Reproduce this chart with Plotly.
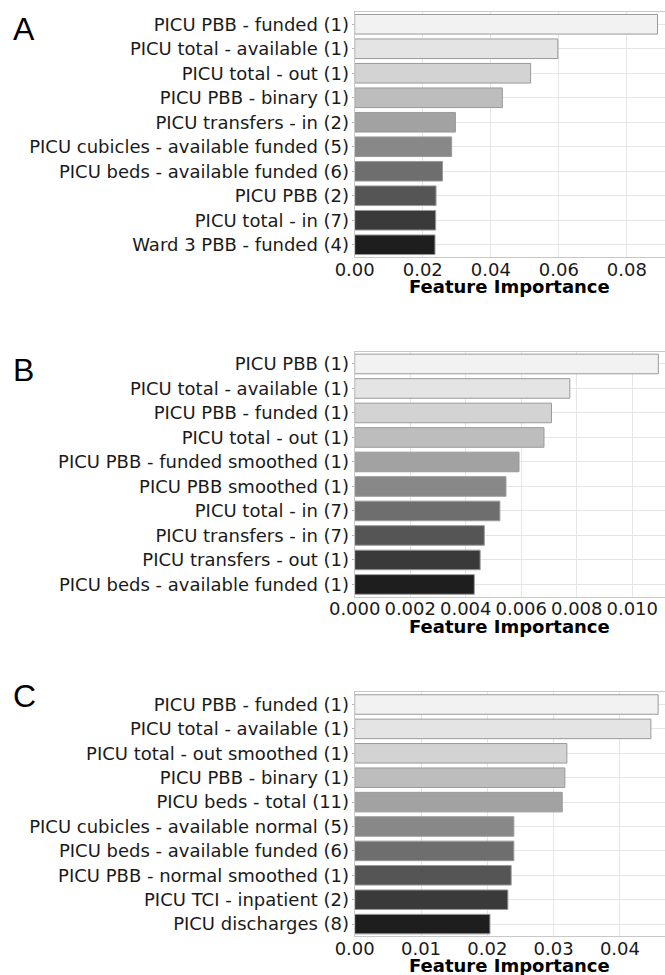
import plotly.graph_objects as go

labels_a = ["PICU PBB - funded (1)", "PICU total - available (1)", "PICU total - out (1)",
            "PICU PBB - binary (1)", "PICU transfers - in (2)", "PICU cubicles - available funded (5)",
            "PICU beds - available funded (6)", "PICU PBB (2)", "PICU total - in (7)",
            "Ward 3 PBB - funded (4)"]
values_a = [0.0890, 0.0597, 0.0517, 0.0434, 0.0296, 0.0285, 0.0258, 0.0239, 0.0238, 0.0236]

labels_b = ["PICU PBB (1)", "PICU total - available (1)", "PICU PBB - funded (1)",
            "PICU total - out (1)", "PICU PBB - funded smoothed (1)", "PICU PBB smoothed (1)",
            "PICU total - in (7)", "PICU transfers - in (7)", "PICU transfers - out (1)",
            "PICU beds - available funded (1)"]
values_b = [0.01094, 0.00775, 0.00709, 0.00682, 0.00592, 0.00545, 0.00523, 0.00467, 0.00452, 0.00431]

labels_c = ["PICU PBB - funded (1)", "PICU total - available (1)", "PICU total - out smoothed (1)",
            "PICU PBB - binary (1)", "PICU beds - total (11)", "PICU cubicles - available normal (5)",
            "PICU beds - available funded (6)", "PICU PBB - normal smoothed (1)",
            "PICU TCI - inpatient (2)", "PICU discharges (8)"]
values_c = [0.04577, 0.04467, 0.0320, 0.0317, 0.0313, 0.0240, 0.0240, 0.0236, 0.0231, 0.0204]

ticks_a = [0.00, 0.02, 0.04, 0.06, 0.08]
ticklabels_a = ["0.00", "0.02", "0.04", "0.06", "0.08"]
ticks_b = [0.000, 0.002, 0.004, 0.006, 0.008, 0.010]
ticklabels_b = ["0.000", "0.002", "0.004", "0.006", "0.008", "0.010"]
ticks_c = [0.00, 0.01, 0.02, 0.03, 0.04]
ticklabels_c = ["0.00", "0.01", "0.02", "0.03", "0.04"]

panel_letters = ["A", "B", "C"]
axis_title = "Feature Importance"

bar_colors = ['#f2f2f2', '#e4e4e4', '#d3d3d3', '#bdbdbd', '#a2a2a2',
              '#888888', '#6e6e6e', '#555555', '#3a3a3a', '#1e1e1e']

W, H = 665, 975
x0 = 354.7 / W
panels = [
    (labels_a, values_a, ticks_a, ticklabels_a, 0.0912, 12, 257, 287),
    (labels_b, values_b, ticks_b, ticklabels_b, 0.01118, 351.7, 596.7, 626.5),
    (labels_c, values_c, ticks_c, ticklabels_c, 0.0468, 692.3, 936.3, 965),
]

fig = go.Figure()
font_lbl = "DejaVu Sans, Liberation Sans, sans-serif"
for i, (labs, vals, tv, tt, xmax, ytop, ybot, ytitle) in enumerate(panels):
    n = "" if i == 0 else str(i + 1)
    fig.add_trace(go.Bar(
        x=vals, y=labs, orientation="h",
        marker=dict(color=bar_colors, line=dict(color="#9a9a9a", width=1)),
        width=0.8, xaxis="x" + n, yaxis="y" + n, showlegend=False,
    ))
    fig.layout["xaxis" + n] = dict(
        domain=[x0, 1], range=[0, xmax], anchor="y" + n,
        tickvals=tv, ticktext=tt, showgrid=True, gridcolor="#e6e6e6", gridwidth=1,
        showline=True, mirror=True, linecolor="#c8c8c8", linewidth=1,
        ticks="", ticklabelstandoff=-4,
        tickfont=dict(family=font_lbl, size=18, color="#1a1a1a"),
        zeroline=False, automargin=False, fixedrange=True,
    )
    fig.layout["yaxis" + n] = dict(
        domain=[1 - ybot / H, 1 - ytop / H], anchor="x" + n,
        type="category", range=[9.5, -0.5],
        showgrid=True, gridcolor="#e6e6e6", gridwidth=1,
        showline=True, mirror=True, linecolor="#c8c8c8", linewidth=1,
        ticks="outside", ticklen=2, tickcolor="#b0b0b0", ticklabelstandoff=-1,
        tickfont=dict(family=font_lbl, size=18, color="#1a1a1a"),
        automargin=False, fixedrange=True,
    )
    fig.add_annotation(text="<b>" + axis_title + "</b>", x=(x0 + 1) / 2, y=1 - ytitle / H,
                       xref="paper", yref="paper", xanchor="center", yanchor="middle",
                       showarrow=False, font=dict(family=font_lbl, size=18, color="#000"))

letter_y = [29, 370, 696]
for L, yy in zip(panel_letters, letter_y):
    fig.add_annotation(text=L, x=11 / W, y=1 - yy / H, xref="paper", yref="paper",
                       xanchor="left", yanchor="middle", showarrow=False,
                       font=dict(family="Liberation Sans, Arial, sans-serif", size=32, color="#000"))

fig.update_layout(
    width=W, height=H, margin=dict(l=0, r=0, t=0, b=0),
    paper_bgcolor="white", plot_bgcolor="white", bargap=0.2,
)
fig.write_html("out.html")
